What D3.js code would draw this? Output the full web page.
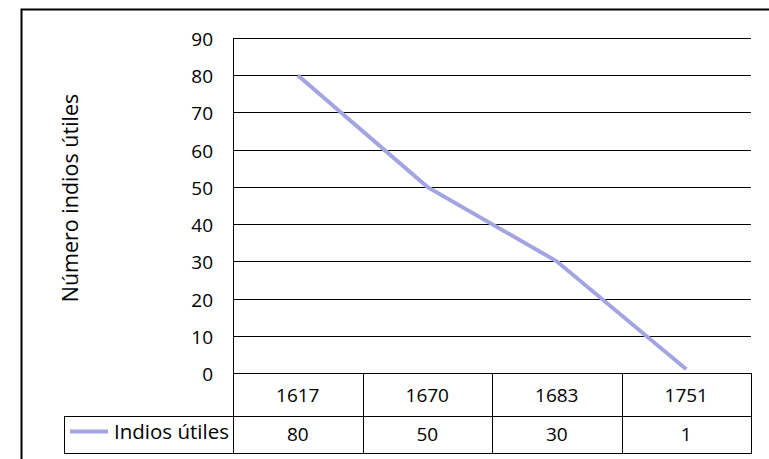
<!DOCTYPE html>
<html>
<head>
<meta charset="utf-8">
<script src="https://cdn.jsdelivr.net/npm/d3@7"></script>
<style>
  body { margin: 0; background: #fff; }
  svg text { font-family: "Open Sans", sans-serif; font-size: 19px; fill: #000; }
  svg text.word { font-size: 20.5px; }
</style>
</head>
<body>
<div id="chart"></div>
<script>
'use strict';

// data
var years = ['1617', '1670', '1683', '1751'];
var indios = [80, 50, 30, 1];
var yTicks = [0, 10, 20, 30, 40, 50, 60, 70, 80, 90];
var seriesName = 'Indios útiles';
var yTitle = 'Número indios útiles';

var width = 769, height = 459;
var plot = {left: 233, right: 751, top: 38, bottom: 373};
var row1 = 416, row2 = 453, legendLeft = 64;
var lineColor = '#a4a4e2';

var svg = d3.select('#chart').append('svg')
    .attr('width', width)
    .attr('height', height);

// outer frame (runs off the right and bottom edges)
svg.append('rect')
    .attr('x', 21.5).attr('y', 9.5)
    .attr('width', 780).attr('height', 480)
    .attr('fill', 'none').attr('stroke', '#000').attr('stroke-width', 2);

var x = d3.scaleBand().domain(years).range([plot.left, plot.right]);
var y = d3.scaleLinear().domain([0, 90]).range([plot.bottom, plot.top]);

// gridlines
svg.append('g').selectAll('line')
    .data(yTicks)
    .enter().append('line')
    .attr('x1', plot.left).attr('x2', plot.right)
    .attr('y1', function (d) { return Math.round(y(d)) + 0.5; })
    .attr('y2', function (d) { return Math.round(y(d)) + 0.5; })
    .attr('stroke', '#000');

// y axis line
svg.append('line')
    .attr('x1', plot.left + 0.5).attr('x2', plot.left + 0.5)
    .attr('y1', plot.top).attr('y2', row2)
    .attr('stroke', '#000');

// y tick labels
svg.append('g').selectAll('text')
    .data(yTicks)
    .enter().append('text')
    .attr('x', 213)
    .attr('y', function (d) { return y(d) + 1; })
    .attr('text-anchor', 'end')
    .attr('dominant-baseline', 'central')
    .text(function (d) { return d; });

// y title
svg.append('text')
    .attr('class', 'word')
    .style('font-size', '21.5px')
    .attr('transform', 'translate(78,198) rotate(-90)')
    .attr('text-anchor', 'middle')
    .text(yTitle);

// data table
var tbl = svg.append('g').attr('stroke', '#000').attr('fill', 'none');
tbl.selectAll('line.col')
    .data(years)
    .enter().append('line')
    .attr('class', 'col')
    .attr('x1', function (d) { return Math.round(x(d) + x.bandwidth()) + 0.5; })
    .attr('x2', function (d) { return Math.round(x(d) + x.bandwidth()) + 0.5; })
    .attr('y1', plot.bottom).attr('y2', row2);
tbl.append('line')
    .attr('x1', legendLeft).attr('x2', plot.right + 1)
    .attr('y1', row1 + 0.5).attr('y2', row1 + 0.5);
tbl.append('line')
    .attr('x1', legendLeft).attr('x2', plot.right + 1)
    .attr('y1', row2 + 0.5).attr('y2', row2 + 0.5);
tbl.append('line')
    .attr('x1', legendLeft + 0.5).attr('x2', legendLeft + 0.5)
    .attr('y1', row1).attr('y2', row2 + 1);

svg.append('g').selectAll('text')
    .data(years)
    .enter().append('text')
    .attr('x', function (d) { return x(d) + x.bandwidth() / 2; })
    .attr('y', 402)
    .attr('text-anchor', 'middle')
    .text(function (d) { return d; });

svg.append('g').selectAll('text')
    .data(indios)
    .enter().append('text')
    .attr('x', function (d, i) { return x(years[i]) + x.bandwidth() / 2; })
    .attr('y', 441)
    .attr('text-anchor', 'middle')
    .text(function (d) { return d; });

// legend key
svg.append('line')
    .attr('x1', 70).attr('x2', 108)
    .attr('y1', 431.5).attr('y2', 431.5)
    .attr('stroke', lineColor).attr('stroke-width', 4);
svg.append('text')
    .attr('class', 'word')
    .attr('x', 114).attr('y', 439)
    .text(seriesName);

// series line
var line = d3.line()
    .x(function (d, i) { return x(years[i]) + x.bandwidth() / 2; })
    .y(function (d) { return y(d); });

svg.append('path')
    .datum(indios)
    .attr('d', line)
    .attr('fill', 'none')
    .attr('stroke', lineColor)
    .attr('stroke-width', 4);
</script>
</body>
</html>
